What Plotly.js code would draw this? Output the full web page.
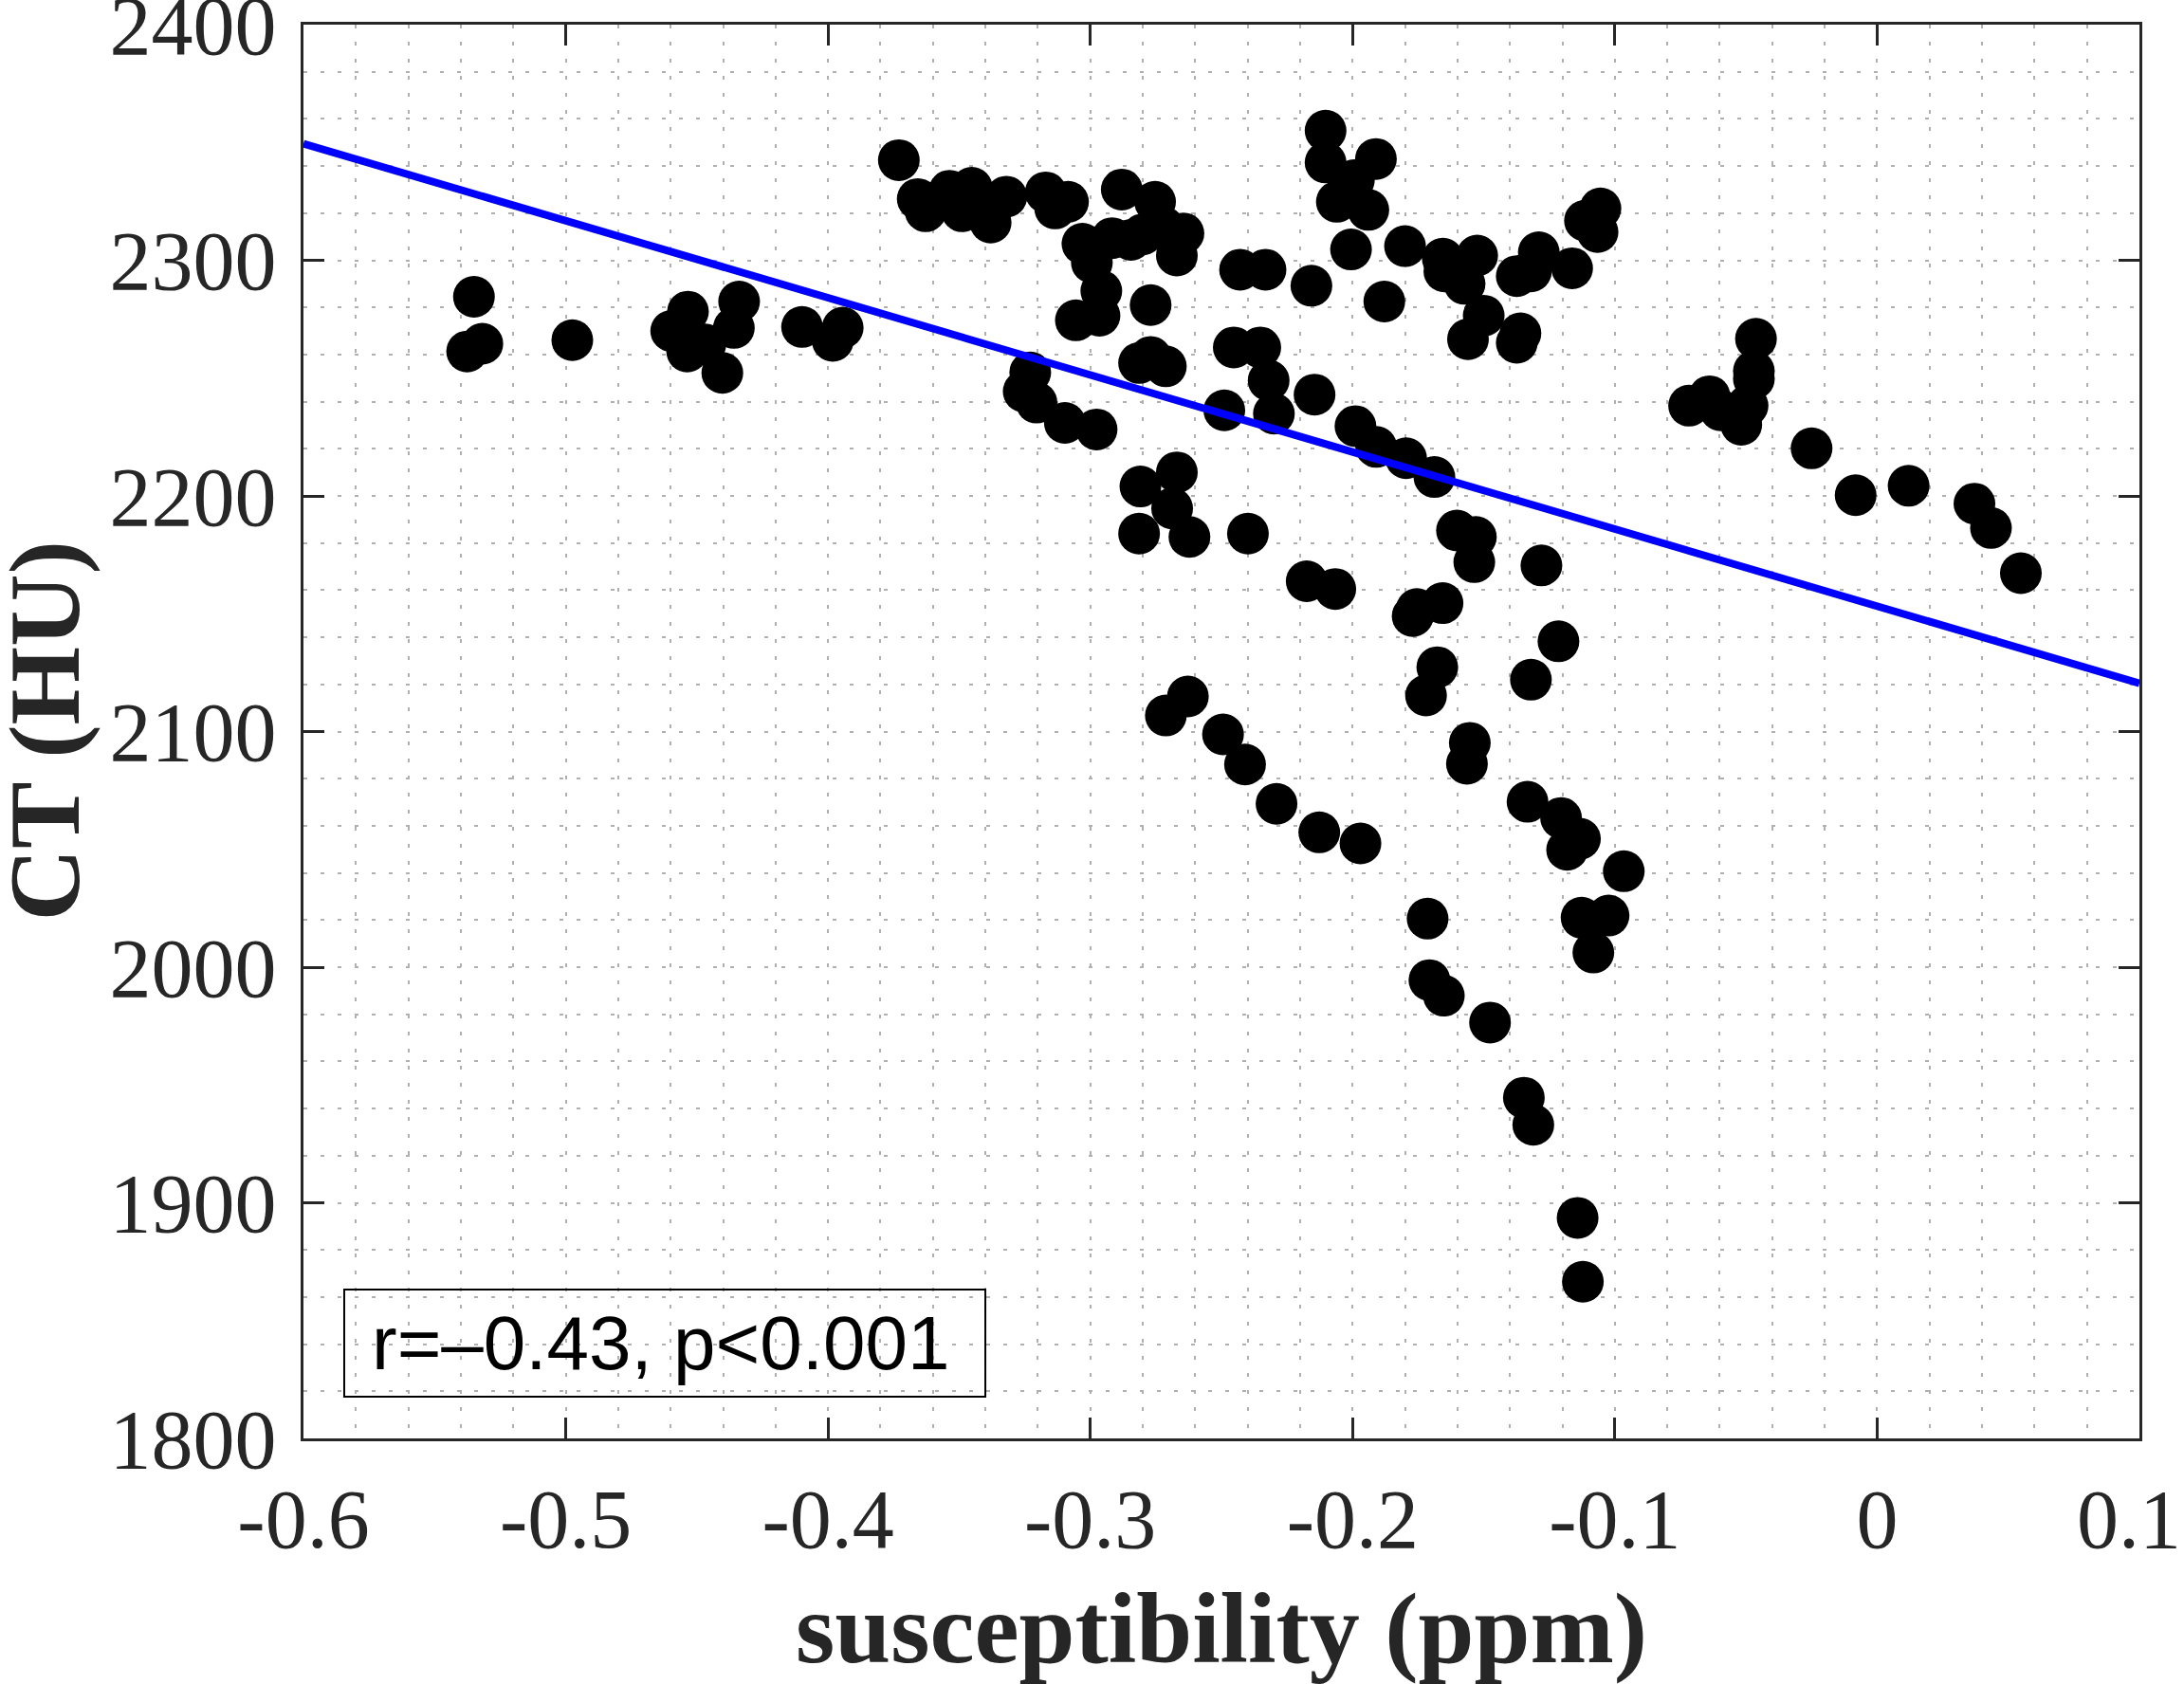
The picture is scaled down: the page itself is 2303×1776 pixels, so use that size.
<!DOCTYPE html>
<html>
<head>
<meta charset="utf-8">
<script src="https://cdn.plot.ly/plotly-3.0.1.min.js"></script>
<style>
  html, body { margin: 0; padding: 0; background: #ffffff; }
  #chart { width: 2303px; height: 1776px; }
</style>
</head>
<body>
<div id="chart"></div>
<script>
// susceptibility (ppm) of each sample
const suscX = [
  -0.535, -0.5318, -0.5376, -0.4975, -0.4534, -0.4598, -0.4537, -0.4468, -0.4339, -0.4359, -0.4403, -0.4099, -0.3982, -0.3944,
  -0.373, -0.3658, -0.3628, -0.3537, -0.3489, -0.3452, -0.338, -0.332, -0.317, -0.3134, -0.3085, -0.303, -0.2994, -0.2958,
  -0.2965, -0.3055, -0.288, -0.2753, -0.2917, -0.2845, -0.280, -0.272, -0.2645, -0.267, -0.277,
  -0.3229, -0.3254, -0.3205, -0.3097, -0.2976, -0.2489, -0.2453, -0.2814, -0.277, -0.2712,
  -0.2809, -0.267, -0.2688, -0.2814, -0.2622, -0.2399,
  -0.2103, -0.2103, -0.1911, -0.1995, -0.206, -0.194, -0.2006, -0.18, -0.1656, -0.165, -0.1573, -0.1525,
  -0.150, -0.156, -0.1374, -0.129, -0.132, -0.1163, -0.1114, -0.1055, -0.1066, -0.1374, -0.136,
  -0.2429, -0.2332, -0.2157, -0.1879, -0.2352, -0.232, -0.230, -0.2145, -0.1989, -0.191, -0.1796, -0.1688,
  -0.2175, -0.2066, -0.2628, -0.2712, -0.2494, -0.241, -0.229, -0.2127, -0.197,
  -0.1602, -0.153, -0.1536, -0.128, -0.1771, -0.1755, -0.1657, -0.1215, -0.132, -0.1677, -0.172, -0.1553, -0.1564, -0.1333, -0.1205,
  -0.1133, -0.1182, -0.0966, -0.1714, -0.1127, -0.1024, -0.1082, -0.1707, -0.1652, -0.1476, -0.1347, -0.1311,
  -0.1142, -0.1122,
  -0.0462, -0.047, -0.047, -0.0494, -0.0518, -0.0717, -0.0639, -0.0597, -0.025, -0.0082, 0.012, 0.0371, 0.0434, 0.0548
];
// CT (HU) of each sample
const ctY = [
  2284.5, 2264.6, 2261.3, 2266.1, 2278.2, 2270.0, 2261.3, 2264.3, 2282.5, 2271.3, 2252.2, 2271.7, 2265.8, 2271.4,
  2342.5, 2326.0, 2320.8, 2329.5, 2320.8, 2330.8, 2316.0, 2327.0, 2328.8, 2322.0, 2324.8, 2307.0, 2299.0, 2287.0,
  2276.5, 2274.5, 2330.0, 2324.8, 2309.4, 2308.7, 2311.0, 2314.0, 2311.4, 2302.0, 2281.0,
  2252.4, 2244.3, 2239.6, 2231.0, 2228.2, 2236.3, 2263.0, 2256.4, 2259.0, 2255.0,
  2204.0, 2210.0, 2194.7, 2184.0, 2182.6, 2184.0,
  2355.0, 2341.5, 2343.0, 2334.0, 2324.8, 2321.4, 2304.6, 2306.0, 2300.7, 2295.3, 2290.0, 2302.0,
  2276.5, 2266.5, 2293.3, 2303.4, 2295.3, 2296.6, 2316.8, 2322.0, 2312.0, 2265.0, 2269.0,
  2296.0, 2296.0, 2289.2, 2282.5, 2263.0, 2249.0, 2234.9, 2243.0, 2229.6, 2220.8, 2216.0, 2208.0,
  2163.8, 2160.5, 2114.9, 2106.8, 2098.8, 2086.0, 2069.3, 2057.2, 2052.5,
  2185.3, 2182.6, 2171.9, 2170.5, 2149.0, 2152.0, 2154.5, 2138.3, 2122.0, 2127.3, 2115.3, 2095.2, 2086.3, 2070.2, 2063.3,
  2054.5, 2049.8, 2040.7, 2020.6, 2021.0, 2021.9, 2006.2, 1994.5, 1987.9, 1976.5, 1944.6, 1933.1,
  1893.6, 1866.5,
  2266.7, 2253.0, 2249.7, 2238.3, 2230.2, 2238.3, 2242.3, 2236.3, 2220.2, 2200.3, 2204.3, 2196.7, 2186.4, 2167.2
];
// regression line end points
const fitX = [-0.6, 0.1];
const fitY = [2349.5, 2120.5];

const xTickVals = [-0.6, -0.5, -0.4, -0.3, -0.2, -0.1, 0, 0.1];
const xTickLabels = ['-0.6', '-0.5', '-0.4', '-0.3', '-0.2', '-0.1', '0', '0.1\u00a0'];
const yTickVals = [1800, 1900, 2000, 2100, 2200, 2300, 2400];
const yTickLabels = ['1800', '1900', '2000', '2100', '2200', '2300', '2400'];
const xTitle = 'susceptibility (ppm)';
const yTitle = 'CT (HU)';
const statText = 'r=\u20130.43, p<0.001';

const txtColor = '#262626';
const gridDash = '4px,14px';
const gridColor = '#b0b0b0';
const serif = 'Liberation Serif, Times New Roman, serif';

const traces = [
  {
    x: suscX, y: ctY, type: 'scatter', mode: 'markers',
    marker: { color: '#000000', size: 44, line: { width: 0 } },
    hoverinfo: 'x+y', showlegend: false
  },
  {
    x: fitX, y: fitY, type: 'scatter', mode: 'lines',
    line: { color: '#0000ff', width: 8 },
    hoverinfo: 'skip', showlegend: false
  }
];

const axisCommon = {
  ticks: 'inside', ticklen: 22, tickwidth: 3, tickcolor: txtColor,
  showline: true, linecolor: txtColor, linewidth: 3, mirror: 'ticks',
  showgrid: true, gridcolor: gridColor, gridwidth: 2, griddash: gridDash,
  zeroline: false, ticklabeloverflow: 'allow',
  tickfont: { family: serif, size: 88, color: txtColor }
};

const layout = {
  width: 2303, height: 1776,
  paper_bgcolor: '#ffffff', plot_bgcolor: '#ffffff',
  margin: { l: 320, r: 47, t: 26, b: 259 },
  showlegend: false,
  xaxis: Object.assign({}, axisCommon, {
    range: [-0.6, 0.1], tickmode: 'array', tickvals: xTickVals, ticktext: xTickLabels,
    ticklabelstandoff: 6,
    minor: { tick0: -0.6, dtick: 0.02, showgrid: true, gridcolor: gridColor, gridwidth: 2, griddash: gridDash, ticks: '' },
    title: { text: '<b>' + xTitle + '</b>', standoff: 30,
             font: { family: serif, size: 106, color: txtColor } }
  }),
  yaxis: Object.assign({}, axisCommon, {
    range: [1800, 2400], tickmode: 'array', tickvals: yTickVals, ticktext: yTickLabels,
    ticklabelstandoff: 8,
    minor: { tick0: 1800, dtick: 20, showgrid: true, gridcolor: gridColor, gridwidth: 2, griddash: gridDash, ticks: '' }
  }),
  shapes: [
    { type: 'rect', xref: 'paper', yref: 'paper', x0: 0.0222, x1: 0.3714, y0: 0.0295, y1: 0.1053,
      line: { color: '#000000', width: 2 }, fillcolor: 'rgba(0,0,0,0)' }
  ],
  annotations: [
    { xref: 'paper', yref: 'paper', x: 0.1947, y: 0.0677, xanchor: 'center', yanchor: 'middle',
      text: statText, showarrow: false,
      font: { family: 'Liberation Sans, Arial, sans-serif', size: 80, color: '#000000' } },
    { xref: 'paper', yref: 'paper', x: -0.141, y: 0.5, xanchor: 'center', yanchor: 'middle',
      text: '<b>' + yTitle + '</b>', textangle: -90, showarrow: false,
      font: { family: serif, size: 106, color: txtColor } }
  ]
};

Plotly.newPlot('chart', traces, layout, { staticPlot: true, displayModeBar: false });
</script>
</body>
</html>
